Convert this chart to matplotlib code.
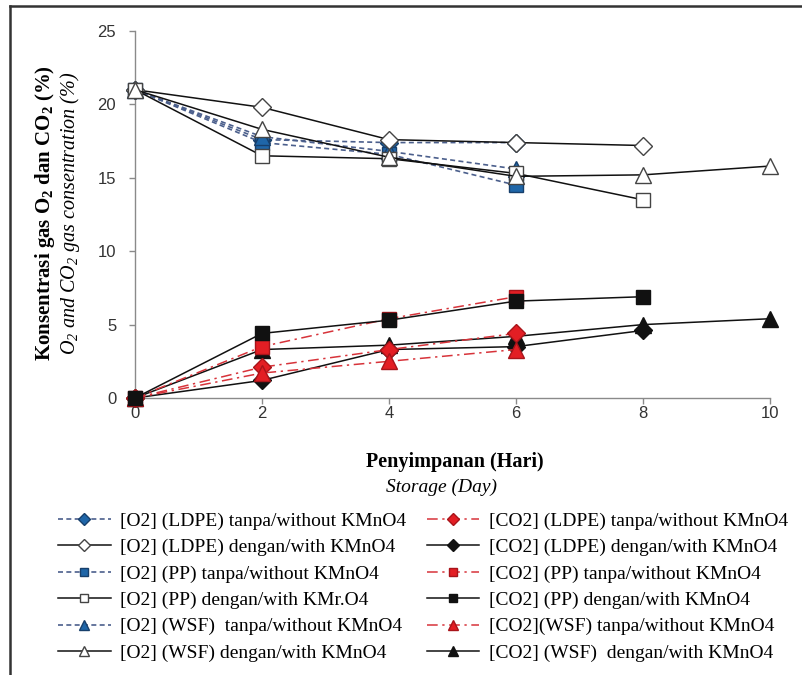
import matplotlib
matplotlib.use("Agg")
import matplotlib.pyplot as plt
from matplotlib.lines import Line2D

plt.rcParams.update({
    "font.family": "Liberation Serif",
    "mathtext.default": "regular",
})

# --- data ---
days4 = [0, 2, 4, 6]
days5 = [0, 2, 4, 6, 8]
days6 = [0, 2, 4, 6, 8, 10]

o2_ldpe_without = [21.0, 17.6, 17.4, 17.4]
o2_ldpe_with = [21.0, 19.8, 17.6, 17.4, 17.2]
o2_pp_without = [21.0, 17.4, 16.6, 14.5]
o2_pp_with = [21.0, 16.5, 16.3, 15.3, 13.5]
o2_wsf_without = [21.0, 17.8, 16.8, 15.6]
o2_wsf_with = [21.0, 18.3, 16.4, 15.1, 15.2, 15.8]

co2_ldpe_without = [0.0, 2.1, 3.3, 4.4]
co2_ldpe_with = [0.0, 1.2, 3.3, 3.5, 4.6]
co2_pp_without = [0.0, 3.5, 5.4, 6.9]
co2_pp_with = [0.0, 4.4, 5.3, 6.6, 6.9]
co2_wsf_without = [0.0, 1.7, 2.5, 3.3]
co2_wsf_with = [0.0, 3.3, 3.6, 4.2, 5.0, 5.4]

labels_o2 = [
    "[O2] (LDPE) tanpa/without KMnO4",
    "[O2] (LDPE) dengan/with KMnO4",
    "[O2] (PP) tanpa/without KMnO4",
    "[O2] (PP) dengan/with KMr.O4",
    "[O2] (WSF)  tanpa/without KMnO4",
    "[O2] (WSF) dengan/with KMnO4",
]
labels_co2 = [
    "[CO2] (LDPE) tanpa/without KMnO4",
    "[CO2] (LDPE) dengan/with KMnO4",
    "[CO2] (PP) tanpa/without KMnO4",
    "[CO2] (PP) dengan/with KMnO4",
    "[CO2](WSF) tanpa/without KMnO4",
    "[CO2] (WSF)  dengan/with KMnO4",
]

BLUE = "#1f66a8"
BLUE_EDGE = "#173f6b"
BLUE_LINE = "#4b5f8c"
RED = "#e31e24"
RED_EDGE = "#a8141a"
RED_LINE = "#d7333a"
BLACK = "#111111"
GREY_EDGE = "#444444"

fig = plt.figure(figsize=(8.03, 6.75), dpi=100)
ax = fig.add_axes([135 / 803, 277 / 675, 635 / 803, 367 / 675])

dashed = dict(ls=(0, (3, 2)), lw=1.2, color=BLUE_LINE)
dashdot = dict(ls=(0, (7, 3, 1.5, 3)), lw=1.1, color=RED_LINE)
solid = dict(ls="-", lw=1.1, color=BLACK)

# x, y, line style, marker, face, edge, size, drawing order
series = [
    (days4, o2_ldpe_without, dashed, "D", BLUE, BLUE_EDGE, 9.5, 3),
    (days5, o2_ldpe_with, solid, "D", "white", GREY_EDGE, 9.5, 4),
    (days4, o2_pp_without, dashed, "s", BLUE, BLUE_EDGE, 10.5, 3),
    (days5, o2_pp_with, solid, "s", "white", GREY_EDGE, 10.5, 4),
    (days4, o2_wsf_without, dashed, "^", BLUE, BLUE_EDGE, 11.5, 3),
    (days6, o2_wsf_with, solid, "^", "white", GREY_EDGE, 11.5, 5),
    (days4, co2_ldpe_without, dashdot, "D", RED, RED_EDGE, 9.5, 3),
    (days5, co2_ldpe_with, solid, "D", BLACK, BLACK, 9.5, 2),
    (days4, co2_pp_without, dashdot, "s", RED, RED_EDGE, 10.5, 3.5),
    (days5, co2_pp_with, solid, "s", BLACK, BLACK, 10.5, 4),
    (days4, co2_wsf_without, dashdot, "^", RED, RED_EDGE, 11.5, 3),
    (days6, co2_wsf_with, solid, "^", BLACK, BLACK, 11.5, 2.5),
]

handles = []
for x, y, style, mk, fc, ec, ms, z in series:
    (h,) = ax.plot(x, y, marker=mk, markersize=ms, markerfacecolor=fc,
                   markeredgecolor=ec, markeredgewidth=1.0, clip_on=False,
                   zorder=z, **style)
    handles.append(h)

ax.set_xlim(0, 10)
ax.set_ylim(0, 25)
ax.set_xticks(range(0, 11, 2))
ax.set_yticks(range(0, 26, 5))
for side in ("top", "right"):
    ax.spines[side].set_visible(False)
for side in ("left", "bottom"):
    ax.spines[side].set_color("#8a8a8a")
    ax.spines[side].set_linewidth(1.0)
ax.tick_params(axis="both", colors="#8a8a8a", labelcolor="#333333",
               length=4.5, width=1.0, labelsize=12)
ax.tick_params(axis="y", pad=9)
ax.tick_params(axis="x", pad=1.5)
for lab in ax.get_xticklabels() + ax.get_yticklabels():
    lab.set_family("Liberation Sans")

# axis titles (two lines each, bold Indonesian + italic English)
fig.text(45 / 803, 1 - 213 / 675, r"Konsentrasi gas O$_2$ dan CO$_2$ (%)",
         rotation=90, ha="center", va="center", fontsize=15,
         fontweight="bold")
fig.text(70 / 803, 1 - 213 / 675, r"O$_2$ and CO$_2$ gas consentration (%)",
         rotation=90, ha="center", va="center", fontsize=14.5,
         fontstyle="italic")
fig.text(455 / 803, 1 - 462 / 675, "Penyimpanan (Hari)", ha="center",
         va="center", fontsize=14.5, fontweight="bold")
fig.text(442 / 803, 1 - 487 / 675, "Storage (Day)", ha="center",
         va="center", fontsize=14, fontstyle="italic")

# legend: two columns placed by hand
leg_kw = dict(loc="upper left", frameon=False, fontsize=14, markerscale=0.6,
              handlelength=2.7, handletextpad=0.5, labelspacing=0.45,
              borderpad=0, borderaxespad=0)
fig.legend(handles[:6], labels_o2, bbox_to_anchor=(58 / 803, 1 - 512 / 675),
           **leg_kw)
fig.legend(handles[6:], labels_co2, bbox_to_anchor=(427 / 803, 1 - 512 / 675),
           **leg_kw)

# outer frame (top and left edges visible in the reference)
fig.add_artist(Line2D([10 / 803, 1], [1 - 6 / 675, 1 - 6 / 675],
                      color="#333333", lw=1.8, transform=fig.transFigure))
fig.add_artist(Line2D([10 / 803, 10 / 803], [0, 1 - 6 / 675],
                      color="#333333", lw=1.8, transform=fig.transFigure))

fig.savefig("out.png", dpi=100, facecolor="white")
